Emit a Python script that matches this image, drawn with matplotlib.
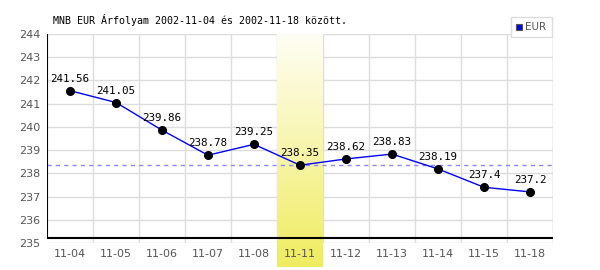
import numpy as np
import matplotlib
matplotlib.use("Agg")
import matplotlib.pyplot as plt
from matplotlib.patches import Rectangle

dates = ['11-04', '11-05', '11-06', '11-07', '11-08', '11-11',
         '11-12', '11-13', '11-14', '11-15', '11-18']
rates = [241.56, 241.05, 239.86, 238.78, 239.25, 238.35,
         238.62, 238.83, 238.19, 237.4, 237.2]
value_labels = ['241.56', '241.05', '239.86', '238.78', '239.25', '238.35',
                '238.62', '238.83', '238.19', '237.4', '237.2']
highlight_idx = 5
ref_rate = 238.35
title = "MNB EUR Árfolyam 2002-11-04 és 2002-11-18 között."

fig = plt.figure(figsize=(6, 2.7), dpi=100)
ax = fig.add_axes([47 / 600, 27 / 270, 506 / 600, 209 / 270])

x = np.arange(len(dates))

# grid
for yv in range(235, 245):
    ax.axhline(yv, color='#dddddd', lw=1, zorder=0)
for xv in np.arange(0.5, len(dates), 1.0):
    ax.axvline(xv, color='#dddddd', lw=1, zorder=0)
ax.axvline(len(dates) - 0.5, color='#dddddd', lw=1, zorder=0)

# highlighted day (yellow gradient running under the tick label)
grad = np.linspace(0, 1, 256).reshape(-1, 1)
cmap = matplotlib.colors.LinearSegmentedColormap.from_list('yl', ['#fffef5', '#f0ec60'])
ax.imshow(grad, cmap=cmap, aspect='auto', origin='upper',
          extent=[highlight_idx - 0.5, highlight_idx + 0.5, 233.97, 244],
          zorder=0.5, clip_on=False)
ax.set_xlim(-0.5, len(dates) - 0.5)
ax.set_ylim(235, 244)

ax.axhline(ref_rate, color='#8888ff', lw=1, ls=(0, (3, 3)), zorder=1)

ax.plot(x, rates, color='#0000ff', lw=1, zorder=2)
ax.plot(x, rates, 'o', color='black', ms=5.5, zorder=3)
for xi, yi, lab in zip(x, rates, value_labels):
    ax.annotate(lab, (xi, yi), xytext=(0, 5), textcoords='offset points',
                ha='center', va='bottom', family='DejaVu Sans Mono',
                fontsize=7.8, color='black', zorder=4)

# axis lines
ax.axhline(235.215, color='black', lw=1.5, zorder=3)
ax.axvline(-0.5, ymin=0.024, color='black', lw=1.5, zorder=3)
for s in ax.spines.values():
    s.set_visible(False)

ax.set_xticks(x)
ax.set_xticklabels(dates)
ax.set_yticks(range(235, 245))
ax.tick_params(length=0, colors='#555555', labelsize=8, pad=4)
ax.tick_params(axis='y', pad=5)

fig.text(53 / 600, 1 - 20 / 270, title, family='DejaVu Sans Mono', fontsize=7.2,
         ha='left', va='center', color='black')

# legend box
fig.patches.append(Rectangle((511 / 600, 1 - 37 / 270), 41 / 600, 20 / 270,
                             transform=fig.transFigure, facecolor='white',
                             edgecolor='#dddddd', lw=1))
fig.patches.append(Rectangle((516 / 600, 1 - 30 / 270), 6 / 600, 6 / 270,
                             transform=fig.transFigure, facecolor='#0000ff',
                             edgecolor='#555555', lw=0.8))
fig.text(525 / 600, 1 - 27 / 270, 'EUR', fontsize=7.5, color='#555555',
         ha='left', va='center')

fig.savefig('out.png', dpi=100)
